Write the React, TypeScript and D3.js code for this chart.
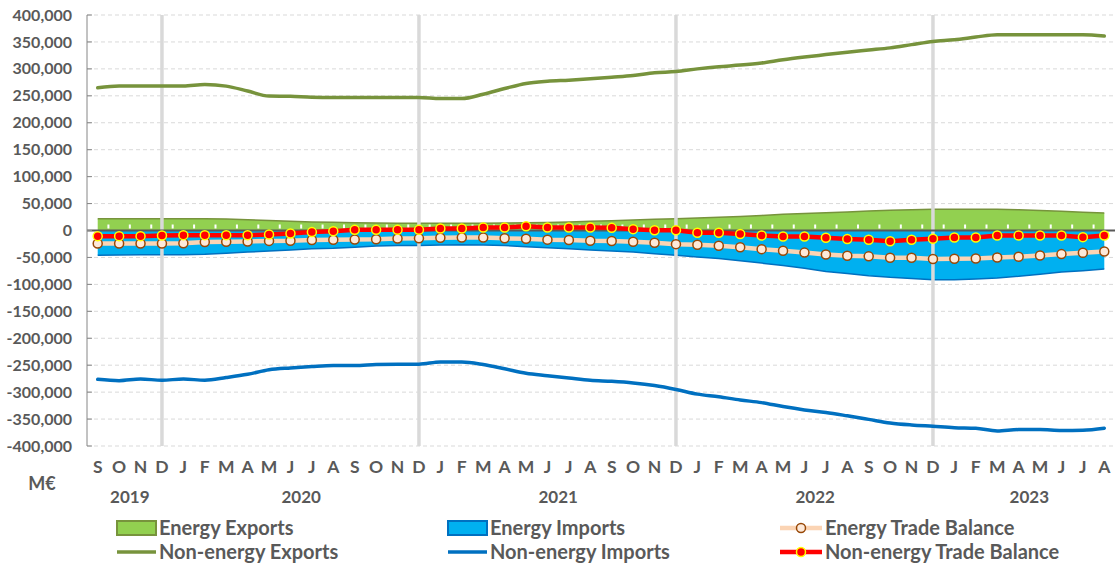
import React from "react";
import * as d3 from "d3";

const months: string[] = [
  "S", "O", "N", "D",
  "J", "F", "M", "A", "M", "J", "J", "A", "S", "O", "N", "D",
  "J", "F", "M", "A", "M", "J", "J", "A", "S", "O", "N", "D",
  "J", "F", "M", "A", "M", "J", "J", "A", "S", "O", "N", "D",
  "J", "F", "M", "A", "M", "J", "J", "A",
];

// year labels: label, first month index, last month index
const years: [string, number, number][] = [
  ["2019", 0, 3],
  ["2020", 4, 15],
  ["2021", 16, 27],
  ["2022", 28, 39],
  ["2023", 40, 47],
];

const yTicks: number[] = [-400000, -350000, -300000, -250000, -200000, -150000, -100000, -50000, 0, 50000, 100000, 150000, 200000, 250000, 300000, 350000, 400000];

const energyExports: number[] = [
  21600, 21600, 21600, 21600, 21600, 21600, 21300, 20000, 18500, 17000, 16000, 15500,
  14500, 14000, 13600, 13600, 13600, 13600, 13600, 14000, 14500, 15000, 16000, 17000,
  18000, 19500, 21000, 21600, 23000, 24500, 26000, 28000, 30000, 31500, 33000, 34500,
  36000, 37500, 38500, 39500, 39500, 39500, 39300, 38500, 37000, 35500, 34000, 32700,
];

const energyImports: number[] = [
  -46000, -45500, -45000, -45000, -45000, -44000, -42000, -40000, -38000, -36000, -34000, -33000,
  -31000, -29000, -28000, -28000, -27000, -26500, -27000, -28000, -30000, -32000, -34000, -36000,
  -38000, -40000, -43000, -46000, -49000, -52000, -56000, -60500, -65000, -70000, -76000, -80000,
  -84000, -87000, -89000, -91400, -91400, -90000, -88000, -85000, -81000, -77000, -74700, -71600,
];

const energyBalance: number[] = [
  -24000, -24000, -24000, -24000, -23800, -21500, -21000, -20500, -19300, -19000, -17500, -17300,
  -16700, -16300, -14800, -14600, -13400, -13000, -13200, -14500, -15400, -17000, -17500, -19000,
  -19500, -21000, -22800, -25300, -26500, -28400, -31000, -34600, -37700, -41000, -44400, -46900,
  -48000, -50600, -50600, -53000, -52500, -52000, -50000, -48800, -46300, -43800, -41400, -38900,
];

const nonEnergyExports: number[] = [
  264800, 268000, 268000, 268000, 268000, 271000, 268000, 259000, 249500, 249000, 247500, 247000,
  247000, 247000, 247000, 247000, 245000, 245000, 253000, 263500, 273000, 277000, 279000, 281500,
  284500, 287700, 292600, 295000, 300000, 304000, 307000, 311000, 317000, 322000, 326500, 331000,
  335000, 339000, 345000, 351000, 354000, 359000, 363500, 363500, 363500, 363500, 363500, 361000,
];

const nonEnergyImports: number[] = [
  -276200, -278700, -275600, -278000, -275600, -278000, -273000, -267000, -258500, -255000, -252400, -250600,
  -250600, -248800, -248200, -248200, -244000, -244000, -248800, -256700, -265000, -269500, -273800, -278000,
  -280000, -283000, -287800, -295000, -303700, -308500, -314600, -319500, -326800, -333000, -337800, -344000,
  -350600, -357300, -361000, -363400, -365900, -367000, -372000, -369500, -369500, -371300, -370700, -367000,
];

const nonEnergyBalance: number[] = [
  -10500, -10500, -10500, -9300, -8600, -8600, -8600, -8600, -7400, -5600, -3000, -1200,
  1200, 1200, 1200, 1200, 3700, 3700, 5600, 5600, 8000, 5600, 5600, 5600,
  4900, 2500, 600, 600, -4300, -4300, -6500, -9300, -11000, -11000, -13600, -16000,
  -17300, -19800, -17300, -15400, -13000, -13000, -9300, -9300, -9300, -9300, -12300, -9300,
];

const legendItems: { label: string; kind: string }[] = [
  { label: "Energy Exports", kind: "eExp" },
  { label: "Energy Imports", kind: "eImp" },
  { label: "Energy Trade Balance", kind: "eBal" },
  { label: "Non-energy Exports", kind: "nExp" },
  { label: "Non-energy Imports", kind: "nImp" },
  { label: "Non-energy Trade Balance", kind: "nBal" },
];

const TEXT = "#595959";
const FONT = "Lato, 'Open Sans', sans-serif";

export default function App() {
  const W = 1120, H = 569;
  const left = 87, right = 1115, top = 15, bottom = 446;
  const idx = months.map((_, i) => i);
  const x = d3.scaleBand<number>().domain(idx).range([left, right]).padding(0);
  const bw = x.bandwidth();
  const cx = (i: number) => (x(i) as number) + bw / 2;
  const y = d3.scaleLinear().domain([-400000, 400000]).range([bottom, top]);
  const fmt = d3.formatLocale({ decimal: ".", thousands: ",", grouping: [3], currency: ["", ""], minus: "-" }).format(",");

  const areaExp = d3.area<number>().x((_, i) => cx(i)).y0(y(0)).y1((d) => y(d));
  const lineExpTop = d3.line<number>().x((_, i) => cx(i)).y((d) => y(d));
  const smooth = d3.line<number>().x((_, i) => cx(i)).y((d) => y(d)).curve(d3.curveMonotoneX);
  const straight = d3.line<number>().x((_, i) => cx(i)).y((d) => y(d));

  const decIdx = months.map((m, i) => (m === "D" ? i : -1)).filter((i) => i >= 0);

  const legendCols = [117, 448, 780];
  const legendRows = [528, 552];

  const swatch = (kind: string, sx: number, sy: number) => {
    const w = 39;
    if (kind === "eExp")
      return <rect x={sx} y={sy - 7} width={w} height={14} fill="#92D050" stroke="#77933C" strokeWidth={2} />;
    if (kind === "eImp")
      return <rect x={sx} y={sy - 7} width={w} height={14} fill="#00B0F0" stroke="#0070C0" strokeWidth={2} />;
    if (kind === "nExp")
      return <line x1={sx} x2={sx + w} y1={sy} y2={sy} stroke="#77933C" strokeWidth={3.5} />;
    if (kind === "nImp")
      return <line x1={sx} x2={sx + w} y1={sy} y2={sy} stroke="#0070C0" strokeWidth={3.5} />;
    if (kind === "eBal")
      return (
        <g>
          <line x1={sx} x2={sx + 42} y1={sy} y2={sy} stroke="#FBD4B4" strokeWidth={4.5} />
          <circle cx={sx + 21} cy={sy} r={4.5} fill="#FDE9D9" stroke="#984807" strokeWidth={1.5} />
        </g>
      );
    return (
      <g>
        <line x1={sx} x2={sx + 42} y1={sy} y2={sy} stroke="#FF0000" strokeWidth={4.5} />
        <circle cx={sx + 21} cy={sy} r={4.5} fill="#FF0000" stroke="#FFFF00" strokeWidth={1.5} />
      </g>
    );
  };

  return (
    <svg width={W} height={H} style={{ position: "absolute", left: 0, top: 0, background: "#fff" }} fontFamily={FONT}>
      {/* gridlines */}
      {yTicks.filter((t) => t !== 0).map((t) => (
        <line key={"g" + t} x1={left} x2={right} y1={y(t)} y2={y(t)} stroke="#D9D9D9" strokeWidth={1} strokeDasharray="4 3" />
      ))}
      {/* areas */}
      <path d={areaExp(energyExports) || ""} fill="#92D050" />
      <path d={lineExpTop(energyExports) || ""} fill="none" stroke="#77933C" strokeWidth={1.5} />
      <path d={areaExp(energyImports) || ""} fill="#00B0F0" />
      <path d={lineExpTop(energyImports) || ""} fill="none" stroke="#0070C0" strokeWidth={1.5} />
      {/* white category ticks */}
      {idx.slice(1).map((i) => (
        <rect key={"wt" + i} x={(x(i) as number) - 1} y={y(0) - 6} width={2} height={4} fill="#fff" />
      ))}
      {/* year separators */}
      {decIdx.map((i) => (
        <line key={"d" + i} x1={cx(i)} x2={cx(i)} y1={top} y2={bottom} stroke="#D9D9D9" strokeWidth={3.5} />
      ))}
      {/* zero axis */}
      <line x1={left} x2={right} y1={y(0)} y2={y(0)} stroke="#595959" strokeWidth={2} />
      {/* y axis */}
      <line x1={left} x2={left} y1={top} y2={bottom} stroke="#868686" strokeWidth={1} />
      {yTicks.map((t) => (
        <g key={"yt" + t}>
          <line x1={left} x2={left + 5} y1={y(t)} y2={y(t)} stroke="#868686" strokeWidth={1} />
          <text x={72} y={y(t)} dy="0.35em" textAnchor="end" fontSize={16} fontWeight="bold" fill={TEXT}>
            {fmt(t)}
          </text>
        </g>
      ))}
      {/* non-energy lines */}
      <path d={smooth(nonEnergyExports) || ""} fill="none" stroke="#77933C" strokeWidth={3.5} strokeLinecap="round" />
      <path d={smooth(nonEnergyImports) || ""} fill="none" stroke="#0070C0" strokeWidth={3.5} strokeLinecap="round" />
      {/* energy balance */}
      <path d={straight(energyBalance) || ""} fill="none" stroke="#FBD4B4" strokeWidth={4.5} />
      {energyBalance.map((v, i) => (
        <circle key={"eb" + i} cx={cx(i)} cy={y(v)} r={4.5} fill="#FDE9D9" stroke="#984807" strokeWidth={1.5} />
      ))}
      {/* non-energy balance */}
      <path d={straight(nonEnergyBalance) || ""} fill="none" stroke="#FF0000" strokeWidth={4.5} />
      {nonEnergyBalance.map((v, i) => (
        <circle key={"nb" + i} cx={cx(i)} cy={y(v)} r={4.5} fill="#FF0000" stroke="#FFFF00" strokeWidth={1.5} />
      ))}
      {/* month labels */}
      {months.map((m, i) => (
        <text key={"m" + i} x={cx(i)} y={467} dy="0.35em" textAnchor="middle" fontSize={17.5} fontWeight="bold" fill={TEXT}>
          {m}
        </text>
      ))}
      <text x={42} y={484} dy="0.35em" textAnchor="middle" fontSize={18} fontWeight="bold" fill={TEXT}>M€</text>
      {years.map(([lab, a, b]) => (
        <text key={lab} x={(cx(a) + cx(b)) / 2} y={497} dy="0.35em" textAnchor="middle" fontSize={17} fontWeight="bold" fill={TEXT}>
          {lab}
        </text>
      ))}
      {/* legend */}
      {legendItems.map((it, k) => {
        const col = k % 3;
        const row = Math.floor(k / 3);
        const sx = legendCols[col];
        const sy = legendRows[row];
        const tx = sx + (col === 2 ? 45 : 42);
        return (
          <g key={it.kind}>
            {swatch(it.kind, sx, sy)}
            <text x={tx} y={sy} dy="0.35em" fontSize={20} fontWeight="bold" fill={TEXT}>
              {it.label}
            </text>
          </g>
        );
      })}
    </svg>
  );
}
